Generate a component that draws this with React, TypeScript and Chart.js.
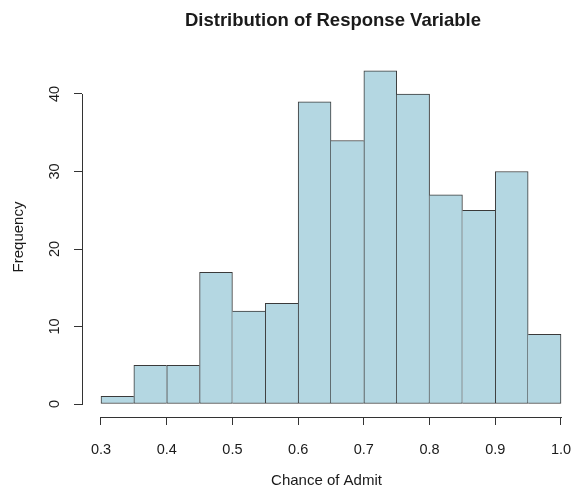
import React, { useEffect, useRef } from 'react';
import { Chart, registerables } from 'chart.js';

Chart.register(...registerables);

// ---- data ----
const binStarts = [0.30, 0.35, 0.40, 0.45, 0.50, 0.55, 0.60, 0.65, 0.70, 0.75, 0.80, 0.85, 0.90, 0.95];
const binWidth = 0.05;
const counts = [1, 5, 5, 17, 12, 13, 39, 34, 43, 40, 27, 25, 30, 9];
const xTickValues = [0.3, 0.4, 0.5, 0.6, 0.7, 0.8, 0.9, 1.0];
const yTickValues = [0, 10, 20, 30, 40];
const chartTitle = 'Distribution of Response Variable';
const xAxisTitle = 'Chance of Admit';
const yAxisTitle = 'Frequency';

const FONT = '"Liberation Sans", Arial, Helvetica, sans-serif';
const BAR_FILL = '#b4d7e2';
const BAR_EDGE = '#3a3a3a';
const AXIS_COLOR = '#333333';
const TEXT_COLOR = '#1a1a1a';

const rAxisLines = {
  id: 'rAxisLines',
  afterLayout(chart: any) {
    // R centres the main title over the (expanded) plot region
    if (chart.titleBlock) {
      chart.titleBlock.right += 13;
    }
  },
  afterDraw(chart: any) {
    const { ctx, chartArea, scales } = chart;
    const x = scales.x;
    const y = scales.y;
    ctx.save();
    ctx.fillStyle = AXIS_COLOR;
    const x0 = Math.round(x.getPixelForValue(xTickValues[0]));
    const x1 = Math.round(x.getPixelForValue(xTickValues[xTickValues.length - 1]));
    const yb = Math.round(chartArea.bottom);
    ctx.fillRect(x0, yb, x1 - x0 + 1, 1);
    const y0 = Math.round(y.getPixelForValue(yTickValues[0]));
    const y1 = Math.round(y.getPixelForValue(yTickValues[yTickValues.length - 1]));
    const xl = Math.round(chartArea.left);
    ctx.fillRect(xl, y1, 1, y0 - y1 + 1);
    ctx.restore();
  },
};

export default function App() {
  const ref = useRef<HTMLCanvasElement | null>(null);

  useEffect(() => {
    document.body.style.margin = '0';
    const canvas = ref.current;
    if (!canvas) return;

    const last = counts.length - 1;
    const chart = new Chart(canvas, {
      type: 'bar',
      data: {
        datasets: [
          {
            data: binStarts.map((s, i) => ({ x: s + binWidth / 2, y: counts[i] })),
            backgroundColor: BAR_FILL,
            borderColor: BAR_EDGE,
            borderSkipped: false,
            borderWidth: (c: any) => {
              const i = c.dataIndex;
              return {
                top: 1,
                bottom: 1,
                left: i === 0 || counts[i - 1] <= counts[i] ? 1 : 0,
                right: i === last || counts[i + 1] < counts[i] ? 1 : 0,
              };
            },
            barPercentage: 1,
            categoryPercentage: 1,
          } as any,
        ],
      },
      options: {
        responsive: false,
        animation: false,
        layout: { padding: 0 },
        plugins: {
          legend: { display: false },
          tooltip: { enabled: false },
          title: {
            display: true,
            text: chartTitle,
            fullSize: false,
            color: TEXT_COLOR,
            font: { family: FONT, size: 18.5, weight: 'bold', lineHeight: 1.2 },
            padding: { top: 10, bottom: 24.8 },
          },
        },
        scales: {
          x: {
            type: 'linear',
            offset: false,
            min: 0.27109,
            max: 1.01522,
            afterBuildTicks: (s: any) => {
              s.ticks = xTickValues.map((v) => ({ value: v }));
            },
            afterFit: (s: any) => {
              s.height = 69;
              s.paddingLeft = 0;
              s.paddingRight = 0;
            },
            grid: {
              display: true,
              offset: false,
              drawOnChartArea: false,
              drawTicks: true,
              tickLength: 8,
              color: AXIS_COLOR,
              lineWidth: 1,
            },
            border: { display: false },
            ticks: {
              autoSkip: false,
              maxRotation: 0,
              minRotation: 0,
              padding: 16,
              color: TEXT_COLOR,
              font: { family: FONT, size: 14.5 },
              callback: (v: any) => Number(v).toFixed(1),
            },
            title: {
              display: true,
              text: xAxisTitle,
              color: TEXT_COLOR,
              font: { family: FONT, size: 15, lineHeight: 1.2 },
              padding: { top: 0, bottom: -4 },
            },
          },
          y: {
            type: 'linear',
            min: -1.677,
            max: 44.774,
            afterBuildTicks: (s: any) => {
              s.ticks = yTickValues.map((v) => ({ value: v }));
            },
            afterFit: (s: any) => {
              s.width = 82;
              s.paddingTop = 0;
              s.paddingBottom = 0;
            },
            grid: {
              display: true,
              drawOnChartArea: false,
              drawTicks: true,
              tickLength: 8,
              color: AXIS_COLOR,
              lineWidth: 1,
            },
            border: { display: false },
            ticks: {
              autoSkip: false,
              minRotation: 90,
              maxRotation: 90,
              crossAlign: 'center',
              padding: 11,
              color: TEXT_COLOR,
              font: { family: FONT, size: 14.5 },
              callback: (v: any) => String(v),
            },
            title: {
              display: true,
              text: yAxisTitle,
              color: TEXT_COLOR,
              font: { family: FONT, size: 15, lineHeight: 1.2 },
              padding: { top: 10, bottom: 0 },
            },
          },
        },
      },
      plugins: [rAxisLines],
    } as any);

    return () => {
      chart.destroy();
    };
  }, []);

  return (
    <div style={{ position: 'absolute', left: 0, top: 0, width: 571, height: 486, background: '#fff' }}>
      <canvas ref={ref} width={571} height={486} style={{ display: 'block' }} />
    </div>
  );
}
